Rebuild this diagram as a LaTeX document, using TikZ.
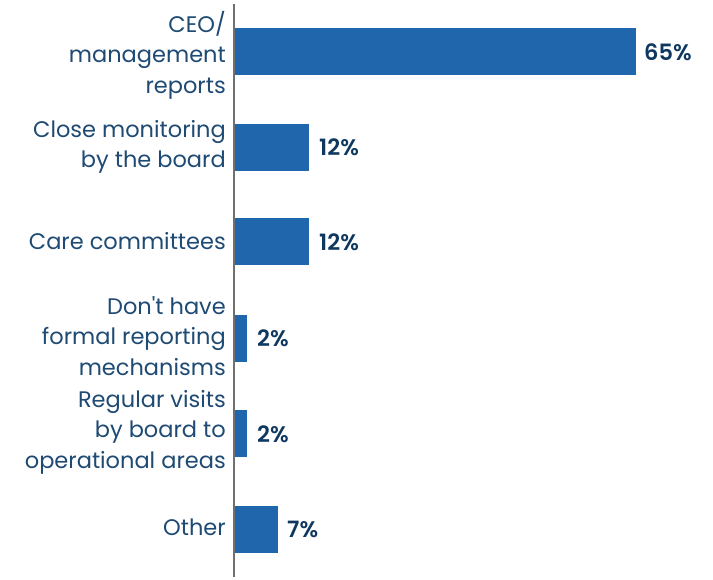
\documentclass[tikz,border=0pt]{standalone}
\usepackage{fontspec}
\setmainfont{Poppins}[BoldFont={Poppins SemiBold}]
\definecolor{barblue}{HTML}{1F66AD}
\definecolor{labtext}{HTML}{1E4A73}
\definecolor{pcttext}{HTML}{0F3860}
\definecolor{axisgrey}{HTML}{707070}
\tikzset{
  bar/.style={fill=barblue, draw=none},
  catlabel/.style={anchor=east, align=right, text=labtext, inner sep=0pt,
    font=\fontsize{22.5}{30.5}\selectfont},
  pctlabel/.style={anchor=west, text=pcttext, inner sep=0pt,
    font=\fontsize{22.5}{24}\selectfont\bfseries},
}
\begin{document}
\begin{tikzpicture}[x=1pt,y=-1pt]
\useasboundingbox (0,0) rectangle (713,580);
% bars
\path[bar] (234,28) rectangle (636,75);
\path[bar] (234,124) rectangle (309,171);
\path[bar] (234,218) rectangle (309,265);
\path[bar] (234,315) rectangle (247,362);
\path[bar] (234,410) rectangle (247,457);
\path[bar] (234,506) rectangle (278,553);
% axis
\coordinate (axtop) at (234,4);
\coordinate (axbot) at (234,577);
\draw[axisgrey, line width=2pt] (axtop) -- (axbot);
% category labels
\node[catlabel] (c1) at (226,55) {CEO/\\management\\reports};
\node[catlabel] (c2) at (226,147) {Close monitoring\\by the board};
\node[catlabel] (c3) at (226,241) {Care committees};
\node[catlabel] (c4) at (226,336) {Don\textquotesingle t have\\formal reporting\\mechanisms};
\node[catlabel] (c5) at (226,432) {Regular visits\\by board to\\operational areas};
\node[catlabel] (c6) at (226,527) {Other};
% value labels
\node[pctlabel] (p1) at (644,52) {65\%};
\node[pctlabel] (p2) at (319,147) {12\%};
\node[pctlabel] (p3) at (319,242) {12\%};
\node[pctlabel] (p4) at (257,338) {2\%};
\node[pctlabel] (p5) at (257,434) {2\%};
\node[pctlabel] (p6) at (287,529) {7\%};
\end{tikzpicture}
\end{document}
